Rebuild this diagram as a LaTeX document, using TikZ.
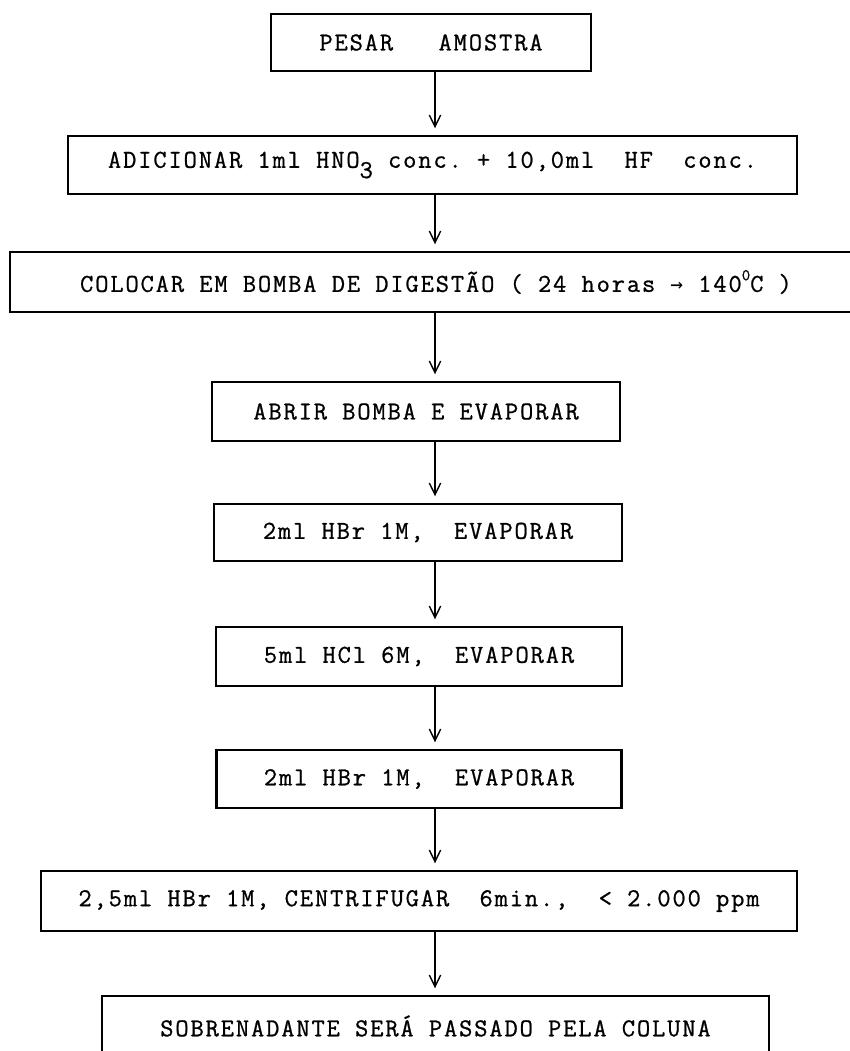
\documentclass[tikz,border=0pt]{standalone}
\usepackage{fontspec}
\setmonofont{Latin Modern Mono}[LetterSpace=7.2, FakeBold=0.8]
\newfontfamily\arrowfont{DejaVu Sans Mono}
\usetikzlibrary{arrows.meta}

\tikzset{
  stepbox/.style={draw, line width=1.8pt, inner sep=0pt, align=center,
    font=\ttfamily\fontsize{22}{26}\selectfont},
  flow/.style={line width=1.2pt, -{Straight Barb[length=3.5mm,width=3.4mm]}, shorten >=2mm},
}

\begin{document}
\begin{tikzpicture}[x=0.03cm, y=-0.03cm]
  \path[use as bounding box, fill=white] (0,0) rectangle (850,1051);
  % Steps of the procedure, top to bottom
  \node[stepbox, minimum width=9.6cm, minimum height=1.71cm] (pesar) at (431,42.5) {PESAR~~~AMOSTRA};
  \node[stepbox, minimum width=21.87cm, minimum height=1.74cm] (adic) at (432.5,165)
    {ADICIONAR 1ml HNO\raisebox{-0.4em}{3} conc. + 10,0ml~~HF~~conc.};
  \node[stepbox, minimum width=25.56cm, minimum height=1.8cm] (bomba) at (436,282)
    {COLOCAR EM BOMBA DE DIGESTÃO ( 24 horas {\arrowfont\fontsize{18}{18}\selectfont →} 140\raisebox{0.45em}{\fontsize{14}{14}\selectfont 0}C )};
  \node[stepbox, minimum width=12.24cm, minimum height=1.77cm] (abrir) at (416,411.5) {ABRIR BOMBA E EVAPORAR};
  \node[stepbox, minimum width=12.24cm, minimum height=1.71cm] (hbra) at (418,532.5) {2ml HBr 1M,~~EVAPORAR};
  \node[stepbox, minimum width=12.18cm, minimum height=1.77cm] (hcl) at (419,656.5) {5ml HCl 6M,~~EVAPORAR};
  \node[stepbox, minimum width=12.15cm, minimum height=1.74cm] (hbrb) at (419,779) {2ml HBr 1M,~~EVAPORAR};
  \node[stepbox, minimum width=22.68cm, minimum height=1.8cm] (centr) at (419,901)
    {2,5ml HBr 1M, CENTRIFUGAR~~6min.,~~< 2.000 ppm};
  \node[stepbox, minimum width=20.01cm, minimum height=1.8cm] (sobre) at (435.5,1026)
    {SOBRENADANTE SERÁ PASSADO PELA COLUNA};
  % Arrows down the middle
  \coordinate (axis) at (435,0);
  \foreach \a/\b in {pesar/adic, adic/bomba, bomba/abrir, abrir/hbra, hbra/hcl, hcl/hbrb, hbrb/centr, centr/sobre}
    \draw[flow] (axis |- \a.south) -- (axis |- \b.north);
\end{tikzpicture}
\end{document}
